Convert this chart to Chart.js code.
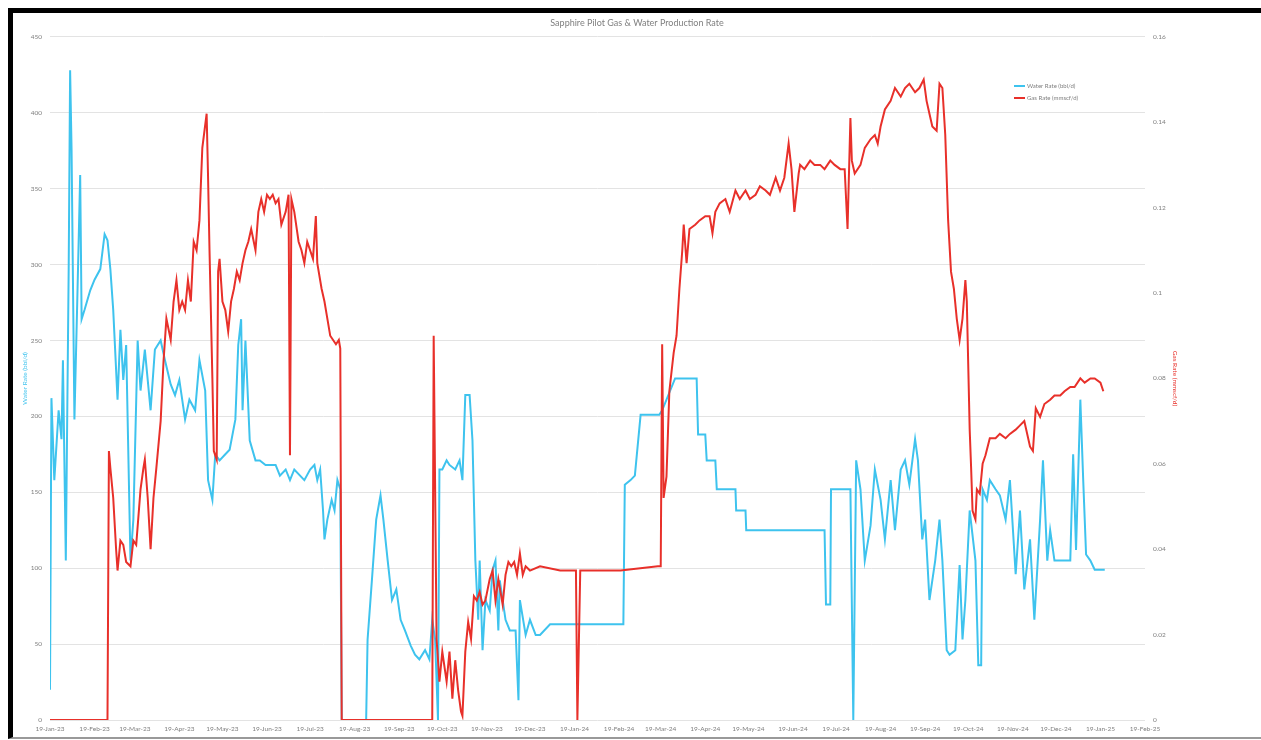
<!DOCTYPE html>
<html>
<head>
<meta charset="utf-8">
<script src="https://cdn.jsdelivr.net/npm/chart.js@4.4.1/dist/chart.umd.min.js"></script>
<style>
  html, body { margin: 0; padding: 0; background: #fff; }
  #frame {
    position: absolute; left: 8px; top: 8px;
    width: 1248px; height: 724px;
    border-top: 5px solid #000; border-left: 5px solid #000; border-bottom: 2px solid #999;
  }
</style>
</head>
<body>
<div id="frame"><canvas id="chart"></canvas></div>
<script>
// x = days since 19-Jan-23
const tickLabels = ['19-Jan-23','19-Feb-23','19-Mar-23','19-Apr-23','19-May-23','19-Jun-23','19-Jul-23',
  '19-Aug-23','19-Sep-23','19-Oct-23','19-Nov-23','19-Dec-23','19-Jan-24','19-Feb-24','19-Mar-24',
  '19-Apr-24','19-May-24','19-Jun-24','19-Jul-24','19-Aug-24','19-Sep-24','19-Oct-24','19-Nov-24',
  '19-Dec-24','19-Jan-25','19-Feb-25'];

// Water rate (bbl/d)
const waterDays = [0,1,3,6,8,9,11,13,14,15,17,19,21,22,24,28,31,35,38,40,42,44,47,49,51,53,56,58,61,63,66,70,73,77,80,84,87,90,94,97,101,104,108,110,113,115,118,122,125,129,131,133,134,136,139,143,146,150,153,157,160,164,167,170,174,177,181,184,186,188,190,191,193,196,198,200,202,203,
  220,221,224,227,230,232,235,238,241,244,247,251,254,257,261,264,266,268,270,271,273,276,278,282,285,287,289,292,294,296,298,299,301,303,306,308,310,312,313,317,320,324,326,327,331,334,338,341,348,
  399,400,404,407,411,424,426,435,450,451,456,457,463,464,477,477.5,484,484.5,522,539,540,543,543.5,557,559,561,564,567,571,574,578,581,585,588,592,595,598,602,604,607,609,612,616,619,621,624,626,630,633,635,637,640,644,646,648,649,652,654,658,661,665,668,672,675,678,682,685,689,691,694,696,699,703,710,712,714,717,719,721,724,727,734];
const waterRate = [20,212,158,204,185,237,105,297,428,376,198,277,359,264,270,283,290,297,320,316,297,270,211,257,224,247,105,132,250,217,244,204,244,250,237,221,214,224,198,211,204,237,217,158,145,175,171,175,178,198,247,264,204,250,184,171,171,168,168,168,161,165,158,165,161,158,165,168,158,165,138,119,132,145,138,158,152,0,
  0,53,92,132,148,132,105,79,86,66,59,49,43,40,46,40,66,53,0,165,165,171,168,165,171,158,214,214,184,105,66,105,46,79,72,99,105,59,92,66,59,59,13,79,56,66,56,56,63,
  63,155,158,161,201,201,204,225,225,188,188,171,171,152,152,138,138,125,125,125,76,76,152,152,0,171,152,105,128,165,145,119,158,125,165,171,155,185,171,119,132,79,105,132,105,46,43,46,102,53,79,138,105,36,36,152,145,158,152,148,132,158,96,138,86,119,66,132,171,105,125,105,105,105,175,112,211,158,109,105,99,99];

// Gas rate (mmscf/d)
const gasDays = [0,40,41,42,44,46,47,49,51,53,56,58,60,63,65,66,68,70,72,74,77,79,81,84,86,88,90,92,94,96,98,100,102,104,106,109,110,111,113,114,116,117,118,120,122,124,126,128,130,132,134,136,138,140,143,145,147,149,151,153,155,157,159,161,164,166,167,168,170,173,175,177,179,181,183,185,186,189,191,193,195,197,199,201,202,203,
  266,267,269,270,271,273,276,278,280,282,284,286,287,289,291,293,295,297,299,301,303,306,308,310,312,315,317,319,321,323,325,327,329,331,334,341,355,366,367,369,397,423,425,426,427,429,431,434,436,438,440,441,443,445,449,452,456,459,461,463,466,470,473,477,480,484,487,491,494,498,501,505,508,511,514,516,518,521,522,525,529,532,536,539,543,546,550,553,555,557,558,560,564,567,571,574,576,578,581,585,588,592,595,598,602,605,608,610,612,614,617,619,621,623,625,627,629,631,633,635,637,638,640,641,642,644,645,647,649,651,654,658,661,665,668,672,675,678,682,684,686,689,692,696,699,703,706,710,713,717,720,724,727,731,733];
const gasRate = [0,0,0.063,0.059,0.052,0.040,0.035,0.042,0.041,0.037,0.036,0.042,0.041,0.054,0.059,0.061,0.052,0.040,0.052,0.059,0.070,0.084,0.094,0.089,0.098,0.103,0.096,0.098,0.096,0.103,0.098,0.112,0.110,0.117,0.134,0.142,0.127,0.110,0.080,0.063,0.061,0.105,0.108,0.098,0.096,0.091,0.098,0.101,0.105,0.103,0.107,0.110,0.112,0.115,0.110,0.119,0.122,0.119,0.123,0.122,0.123,0.121,0.122,0.116,0.119,0.123,0.062,0.122,0.119,0.112,0.110,0.107,0.112,0.110,0.108,0.118,0.107,0.101,0.098,0.094,0.090,0.089,0.088,0.089,0.087,0,
  0,0.090,0.019,0.014,0.009,0.016,0.009,0.016,0.005,0.014,0.007,0.002,0.001,0.016,0.023,0.019,0.029,0.028,0.030,0.027,0.028,0.033,0.035,0.028,0.033,0.027,0.034,0.037,0.036,0.037,0.034,0.039,0.034,0.036,0.035,0.036,0.035,0.035,0,0.035,0.035,0.036,0.036,0.088,0.052,0.057,0.077,0.086,0.090,0.101,0.110,0.116,0.107,0.115,0.116,0.117,0.118,0.118,0.114,0.119,0.121,0.122,0.119,0.124,0.122,0.124,0.122,0.123,0.125,0.124,0.123,0.127,0.124,0.127,0.135,0.129,0.119,0.128,0.130,0.129,0.131,0.130,0.130,0.129,0.131,0.130,0.129,0.129,0.115,0.141,0.131,0.128,0.130,0.134,0.136,0.137,0.135,0.139,0.143,0.145,0.148,0.146,0.148,0.149,0.147,0.148,0.150,0.145,0.142,0.139,0.138,0.149,0.148,0.137,0.117,0.105,0.101,0.094,0.089,0.094,0.103,0.098,0.068,0.059,0.049,0.047,0.054,0.053,0.060,0.062,0.066,0.066,0.067,0.066,0.067,0.068,0.069,0.070,0.064,0.063,0.073,0.071,0.074,0.075,0.076,0.076,0.077,0.078,0.078,0.080,0.079,0.080,0.080,0.079,0.077];

const WATER_COLOR = '#3ec3ee';
const GAS_COLOR = '#e8302a';

const start = Date.UTC(2023, 0, 19);
const tickDays = tickLabels.map((_, i) => Math.round((Date.UTC(2023, i, 19) - start) / 86400000));
const toPoints = (xs, ys) => xs.map((x, i) => ({ x: x, y: ys[i] }));

Chart.defaults.font.family = 'Lato, "Open Sans", sans-serif';
Chart.defaults.color = '#7f7f7f';

// legend drawn inside the plot, top right
const legendPlugin = {
  id: 'insideLegend',
  afterDraw(chart) {
    const ctx = chart.ctx;
    const items = [
      { text: 'Water Rate (bbl/d)', color: WATER_COLOR, y: 73 },
      { text: 'Gas Rate (mmscf/d)', color: GAS_COLOR, y: 85 }
    ];
    ctx.save();
    ctx.font = '6px Lato, "Open Sans", sans-serif';
    ctx.textBaseline = 'middle';
    items.forEach(it => {
      ctx.strokeStyle = it.color;
      ctx.lineWidth = 2;
      ctx.beginPath();
      ctx.moveTo(1001, it.y);
      ctx.lineTo(1012, it.y);
      ctx.stroke();
      ctx.fillStyle = '#7f7f7f';
      ctx.fillText(it.text, 1014, it.y);
    });
    ctx.restore();
  }
};

new Chart(document.getElementById('chart'), {
  type: 'line',
  data: {
    datasets: [
      { label: 'Water Rate (bbl/d)', data: toPoints(waterDays, waterRate), yAxisID: 'y',
        borderColor: WATER_COLOR, borderWidth: 2, pointRadius: 0, order: 1 },
      { label: 'Gas Rate (mmscf/d)', data: toPoints(gasDays, gasRate), yAxisID: 'y1',
        borderColor: GAS_COLOR, borderWidth: 2, pointRadius: 0, order: 0 }
    ]
  },
  options: {
    responsive: true,
    maintainAspectRatio: false,
    animation: false,
    layout: { padding: 0 },
    plugins: {
      legend: { display: false },
      tooltip: { enabled: false },
      title: {
        display: true,
        text: 'Sapphire Pilot Gas & Water Production Rate',
        font: { size: 9, weight: 'normal' },
        color: '#7f7f7f',
        padding: { top: 5, bottom: 8 }
      }
    },
    scales: {
      x: {
        type: 'linear', min: 0, max: 762,
        grid: { display: false, drawTicks: false },
        border: { display: false },
        afterBuildTicks: s => { s.ticks = tickDays.map(v => ({ value: v })); },
        afterFit: s => { s.height = 17; },
        ticks: {
          autoSkip: false, maxRotation: 0, minRotation: 0, padding: 5,
          font: { size: 6.5 },
          callback: (v, i) => tickLabels[i]
        }
      },
      y: {
        position: 'left', min: 0, max: 450,
        grid: { color: '#e3e3e3', drawTicks: false },
        border: { display: false },
        afterFit: s => { s.width = 37; },
        ticks: { stepSize: 50, padding: 8, font: { size: 6.5 } },
        title: { display: true, text: 'Water Rate (bbl/d)', color: WATER_COLOR,
          font: { size: 6.5 }, padding: { top: 8, bottom: 0 } }
      },
      y1: {
        position: 'right', min: 0, max: 0.16,
        grid: { display: false, drawTicks: false },
        border: { display: false },
        afterFit: s => { s.width = 116; },
        ticks: { stepSize: 0.02, padding: 8, font: { size: 6.5 },
          callback: v => String(+v.toFixed(2)) },
        title: { display: true, text: 'Gas Rate (mmscf/d)', color: GAS_COLOR,
          font: { size: 6.5 }, padding: { top: 82, bottom: 0 } }
      }
    }
  },
  plugins: [legendPlugin]
});
</script>
</body>
</html>
